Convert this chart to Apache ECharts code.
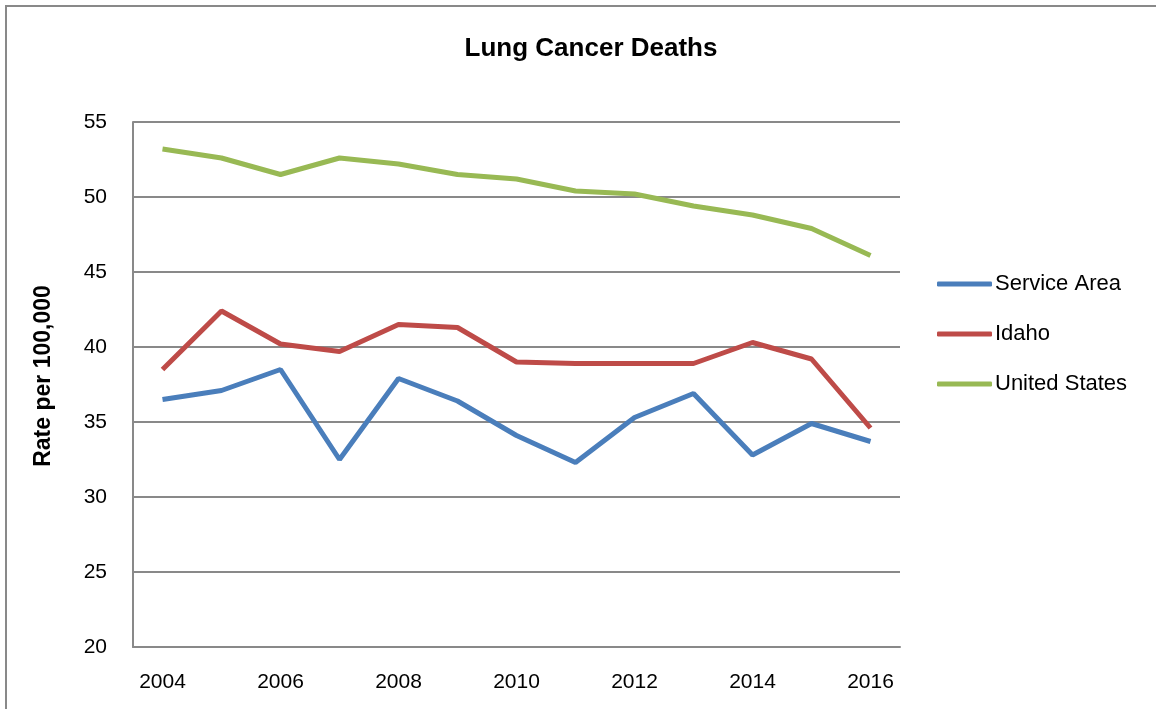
<!DOCTYPE html>
<html>
<head>
<meta charset="utf-8">
<title>Lung Cancer Deaths</title>
<script src="https://cdn.jsdelivr.net/npm/echarts@6/dist/echarts.min.js"></script>
<style>
  html, body { margin: 0; padding: 0; background: #fff; }
  #chart { width: 1156px; height: 709px; }
</style>
</head>
<body>
<div id="chart"></div>
<script>
// years along the x axis
const years = ['2004', '2005', '2006', '2007', '2008', '2009', '2010',
  '2011', '2012', '2013', '2014', '2015', '2016'];

// rate per 100,000
const serviceArea = [36.5, 37.1, 38.5, 32.5, 37.9, 36.4, 34.1, 32.3, 35.3, 36.9, 32.8, 34.9, 33.7];
const idaho = [38.5, 42.4, 40.2, 39.7, 41.5, 41.3, 39.0, 38.9, 38.9, 38.9, 40.3, 39.2, 34.6];
const unitedStates = [53.2, 52.6, 51.5, 52.6, 52.2, 51.5, 51.2, 50.4, 50.2, 49.4, 48.8, 47.9, 46.1];

const font = '"Liberation Sans", Arial, sans-serif';
const gridGrey = '#898989';

const chart = echarts.init(document.getElementById('chart'));

function line(name, data, color) {
  return {
    name: name,
    type: 'line',
    data: data,
    symbol: 'none',
    lineStyle: { width: 5, color: color },
    itemStyle: { color: color }
  };
}

chart.setOption({
  backgroundColor: '#fff',
  animation: false,
  textStyle: { fontFamily: font },
  title: {
    text: 'Lung Cancer Deaths',
    left: 586,
    textAlign: 'center',
    top: 31,
    textStyle: { fontSize: 26, fontWeight: 'bold', color: '#000', fontFamily: font }
  },
  graphic: [{
    // outer chart frame
    type: 'rect',
    shape: { x: 6, y: 6, width: 1200, height: 760 },
    style: { fill: 'none', stroke: gridGrey, lineWidth: 2 },
    silent: true
  }, {
    // y axis title, placed like the original
    type: 'text',
    x: 44,
    y: 376,
    rotation: Math.PI / 2,
    style: {
      text: 'Rate per 100,000',
      font: 'bold 23px ' + font,
      fill: '#000',
      align: 'center',
      verticalAlign: 'middle'
    },
    silent: true
  }],
  legend: {
    orient: 'vertical',
    left: 932,
    top: 268,
    icon: 'roundRect',
    itemWidth: 55,
    itemHeight: 5,
    itemGap: 28,
    textStyle: { fontSize: 22, color: '#000', fontFamily: font, padding: [0, 0, 0, -2] },
    data: ['Service Area', 'Idaho', 'United States']
  },
  grid: { left: 133, right: 256, top: 122, bottom: 62 },
  xAxis: {
    type: 'category',
    data: years,
    boundaryGap: true,
    axisLine: { lineStyle: { color: gridGrey, width: 2 } },
    axisTick: { show: false },
    axisLabel: { interval: 1, fontSize: 21, color: '#000', margin: 25, fontFamily: font }
  },
  yAxis: {
    type: 'value',
    min: 20,
    max: 55,
    interval: 5,
    axisLine: { show: true, lineStyle: { color: gridGrey, width: 2 } },
    axisTick: { show: false },
    axisLabel: { fontSize: 21, color: '#000', margin: 26, fontFamily: font },
    splitLine: { lineStyle: { color: gridGrey, width: 2 } }
  },
  series: [
    line('Service Area', serviceArea, '#4A7EBB'),
    line('Idaho', idaho, '#BE4B48'),
    line('United States', unitedStates, '#98B954')
  ]
});
</script>
</body>
</html>
